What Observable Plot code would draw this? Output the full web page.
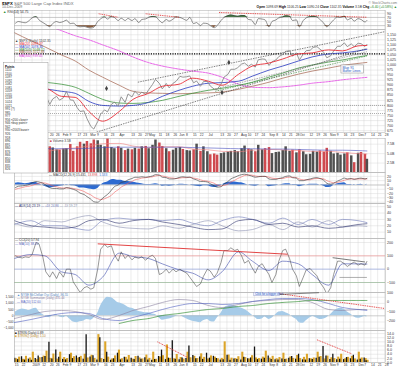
<!DOCTYPE html>
<html><head><meta charset="utf-8">
<script src="https://cdn.jsdelivr.net/npm/d3@7"></script>
<script src="https://cdn.jsdelivr.net/npm/@observablehq/plot@0.6"></script>
<style>
html,body{margin:0;padding:0;background:#fff;}
#chart{position:relative;width:400px;height:369px;overflow:hidden;background:#fff;}
</style></head><body><div id="chart"></div>
<script>
// ---------- DATA ----------
// twice-weekly sample dates (Tue/Fri) Dec 16 2008 .. Dec 10 2009 (104 points)
const price = [913,887,863,872,890,931,934,890,871,850,
805,832,845,826,838,869,827,826,789,770,
773,735,696,683,720,757,778,768,806,816,
798,843,815,857,842,870,851,866,855,877,
904,929,909,882,909,887,910,919,944,940,
942,946,912,921,895,918,919,896,881,879,
905,940,954,979,979,987,1005,1010,994,1004,
990,1026,1030,1029,998,1016,1025,1042,1052,1068,
1071,1044,1060,1025,1054,1071,1073,1087,1091,1079,
1063,1036,1046,1069,1093,1093,1110,1091,1105,1091,
1108,1106,1092,1102];
const rsi = [42,50,46,44,55,68,74,58,45,36,
25,40,50,45,50,57,40,42,28,24,
26,22,18,22,50,63,72,62,74,70,
55,66,55,65,55,64,45,60,63,70,
75,73,55,44,60,52,62,72,70,64,
56,70,40,45,30,42,40,30,20,30,
55,70,78,82,78,76,80,79,60,58,
35,64,62,58,24,50,58,68,72,78,
76,55,58,24,55,68,74,76,72,60,
42,24,42,58,72,70,76,58,66,52,
64,60,48,54.75];
const volume = [6.0,7.5,4.5,2.2,3.8,4.0,6.0,5.5,5.8,7.0,
6.8,6.5,6.0,5.9,6.2,6.3,7.4,5.6,6.8,8.0,
7.5,8.2,7.6,8.6,8.4,7.2,6.8,8.9,6.6,6.3,
6.8,6.4,5.8,6.2,6.0,6.4,6.2,6.8,6.9,6.3,
7.2,8.6,7.8,6.9,6.3,5.5,5.9,6.4,6.6,6.1,
5.8,5.7,6.0,7.5,5.6,6.8,5.5,4.7,4.9,4.6,
5.0,5.2,5.4,5.6,5.8,5.5,6.3,7.0,6.2,6.0,
5.5,7.2,6.0,6.3,6.6,5.0,5.3,5.4,5.8,6.8,
5.6,5.9,5.2,6.0,5.5,4.7,4.8,5.6,5.4,5.7,
5.4,6.4,5.6,4.9,5.1,4.6,4.9,5.2,4.4,2.6,
5.1,5.3,4.8,3.5];
const macd = [-6,-3,-2,-1,1,5,8,7,4,0,
-6,-8,-8,-9,-9,-6,-8,-10,-14,-19,
-22,-27,-33,-39,-40,-35,-27,-22,-12,-4,
0,6,8,12,15,18,18,19,18,19,
21,24,23,18,17,14,14,15,18,19,
18,18,14,12,8,8,7,3,-2,-5,
-4,2,8,14,18,21,24,25,23,21,
18,19,20,20,14,13,13,15,17,20,
21,17,16,10,10,12,14,16,17,15,
11,4,2,4,9,12,16,14,15,13,
15,16,14,15.43];
const signal = [-10,-8,-6,-4,-3,-1,2,4,5,4,
1,-2,-4,-6,-7,-7,-7,-8,-10,-12,
-15,-19,-23,-28,-32,-34,-32,-29,-24,-17,
-11,-5,0,4,8,12,14,16,17,18,
19,21,22,21,19,17,16,15,16,17,
17,18,16,15,12,10,9,7,4,0,
-2,-1,2,7,11,15,19,22,23,23,
21,20,20,20,18,16,15,15,15,17,
18,18,17,14,12,12,12,14,15,15,
14,10,7,5,6,8,11,13,14,14,
14,14,14,13.9];
const cci = [100,90,84,92,88,110,200,190,90,-20,
-60,-20,-70,-20,-60,0,0,-95,-140,-175,
-140,-130,-150,-140,0,150,185,165,175,110,
60,130,80,105,70,90,82,94,67,90,
105,80,-40,-30,0,-30,0,-20,0,-15,
-30,-60,-100,-130,-110,-54,0,-14,-60,-30,
50,140,140,160,140,149,100,45,65,20,
-30,20,41,5,-41,-100,-40,60,140,150,
80,0,-50,-130,-60,-5,5,-20,-50,-100,
-140,-185,-140,-40,60,60,41,20,41,54,
30,41,30,57.94];
const mcOsc = [300,450,550,500,420,520,600,350,100,-50,
-150,0,80,-100,-150,-50,-300,-500,-550,-480,
-420,-300,-350,-200,200,800,1300,1500,1450,1300,
1050,1000,850,700,600,500,350,300,250,250,
150,100,-200,-350,-300,-250,-150,-50,0,-100,
-250,-350,-450,-500,-550,-400,-300,-450,-500,-200,
200,600,800,850,800,700,600,500,300,100,
-150,-300,-250,-100,-300,-200,100,300,350,250,
100,-100,-300,-550,-600,-400,-150,-50,-200,-300,
-250,-150,100,350,550,600,500,300,100,-100,
-200,-150,-50,-100];
const trin = [2.1,1.4,2.8,1.2,1.6,1.1,1.9,3.2,2.4,2.9,
9.8,1.7,6.0,2.5,1.5,1.3,3.8,1.9,3.1,2.4,
1.6,13.5,2.7,3.3,1.2,12.0,1.5,5.0,1.1,1.8,
4.5,1.3,2.6,1.2,2.0,1.4,3.0,1.6,2.3,1.2,
1.1,1.5,2.9,6.0,1.4,2.1,10.5,1.6,1.3,2.2,
1.9,8.0,3.4,1.8,2.7,1.5,4.5,2.1,3.0,1.9,
1.2,1.3,3.5,1.1,1.7,1.4,1.2,2.5,1.8,2.2,
7.5,1.4,1.6,2.0,3.1,1.5,1.3,1.2,1.7,1.4,
2.0,2.9,1.6,4.0,1.3,1.2,1.8,1.5,2.1,2.6,
7.7,3.2,1.4,4.0,1.3,1.6,1.4,2.4,1.8,3.5,
1.2,1.6,2.2,0.89];
const trinq = [1.8,2.6,1.5,3.0,2.2,5.0,1.4,2.3,3.1,5.5,
2.0,4.1,1.6,5.0,2.4,1.9,4.5,2.8,2.1,3.0,
4.0,2.2,3.5,2.0,13.5,1.9,10.0,2.6,1.7,3.2,
6.0,1.8,2.5,3.4,1.6,2.9,2.2,1.7,3.6,2.0,
5.0,1.5,2.7,3.3,8.5,2.0,1.8,3.9,2.4,1.6,
5.0,2.3,3.0,1.9,4.2,2.5,1.7,3.2,2.6,1.8,
2.0,10.0,3.6,2.1,1.9,2.8,5.0,2.4,1.7,3.3,
2.2,1.9,2.6,5.5,2.1,3.0,1.8,2.4,4.5,1.6,
2.7,2.0,3.4,1.9,2.5,4.0,1.8,2.2,5.0,2.9,
1.7,3.1,2.3,1.9,2.6,4.0,1.8,2.5,3.0,1.7,
5.0,2.2,1.9,1.10];

// semi-monthly smooth series (25 points)
const smDates = ["2008-12-15","2009-01-01","2009-01-15","2009-02-01","2009-02-15","2009-03-01","2009-03-15","2009-04-01","2009-04-15","2009-05-01","2009-05-15","2009-06-01","2009-06-15","2009-07-01","2009-07-15","2009-08-01","2009-08-15","2009-09-01","2009-09-15","2009-10-01","2009-10-15","2009-11-01","2009-11-15","2009-12-01","2009-12-10"];
const ma20  = [870,880,885,845,840,770,722,770,830,860,895,905,935,920,900,955,995,1010,1030,1055,1060,1075,1070,1095,1097];
const ma50  = [880,875,880,870,860,820,800,797,800,815,845,875,895,910,913,920,945,975,995,1020,1040,1055,1060,1070,1078];
const ma100 = [940,925,915,905,890,860,830,812,810,815,825,845,860,875,885,900,915,940,960,985,1000,1015,1025,1040,1047];
const ma200 = [1160,1120,1090,1050,1020,975,940,900,870,862,860,858,860,862,866,880,895,915,935,955,970,985,998,1008,1013];
const ma300 = [1250,1225,1200,1170,1145,1125,1100,1070,1040,1012,995,980,970,960,940,905,890,888,892,900,910,918,927,935,939];
const volMaRed  = [5.8,5.0,5.5,6.2,6.5,7.0,7.6,7.7,7.0,6.6,6.8,6.8,6.2,6.0,5.6,5.5,5.9,6.1,6.0,5.8,5.6,5.6,5.3,5.0,4.9];
const volMaBlue = [6.5,6.4,6.3,6.3,6.3,6.4,6.6,6.7,6.7,6.7,6.7,6.7,6.6,6.5,6.4,6.3,6.3,6.2,6.2,6.1,6.0,5.9,5.9,5.8,5.7];
const adx = [28,20,18,16,18,28,30,24,28,30,26,22,18,14,15,28,30,22,24,18,20,16,18,22,23.19];
const pdi = [22,28,20,20,16,13,28,32,30,30,28,30,24,20,28,34,30,24,32,22,30,22,30,28,25];
const mdi = [24,18,28,26,32,36,26,18,16,15,20,16,22,28,20,12,14,22,14,26,18,28,18,20,19];
const cciMa = [80,110,100,-20,-40,-120,-60,120,95,80,40,-5,-30,-80,-20,130,60,-10,60,40,-40,-120,40,40,38];
const sumGray = [-174,-132,-100,-89,-100,-132,-184,-142,-89,-47,-5,26,16,-37,-58,-26,5,16,26,26,-5,-79,-89,-79,-79];
const sumBlue = [-216,-184,-153,-121,-111,-121,-174,-195,-163,-121,-79,-37,-16,-16,-26,-16,5,26,37,37,26,-16,-58,-79,-89];
const sumGreen = [null,null,null,null,null,null,null,-226,-195,-174,-142,-121,-100,-79,-68,-47,-37,-16,-5,5,16,16,16,16,16];

// tick labels
const tickDates = ["2008-12-15","2008-12-22","2009-01-02","2009-01-12","2009-01-20","2009-01-26","2009-02-02","2009-02-09","2009-02-17","2009-02-23","2009-03-02","2009-03-09","2009-03-16","2009-03-23","2009-04-01","2009-04-13","2009-04-20","2009-04-27","2009-05-01","2009-05-11","2009-05-18","2009-05-26","2009-06-01","2009-06-08","2009-06-15","2009-06-22","2009-07-01","2009-07-13","2009-07-20","2009-07-27","2009-08-03","2009-08-10","2009-08-17","2009-08-24","2009-09-01","2009-09-08","2009-09-14","2009-09-21","2009-09-28","2009-10-02","2009-10-12","2009-10-19","2009-10-26","2009-11-02","2009-11-09","2009-11-16","2009-11-23","2009-12-01","2009-12-07","2009-12-14","2009-12-21","2009-12-28"];
const tickLabels = ["15","22","2009","12","20","26","Feb","9","17","23","Mar","9","16","23","Apr","13","20","27","May","11","18","26","Jun","8","15","22","Jul","13","20","27","Aug","10","17","24","Sep","8","14","21","28","Oct","12","19","26","Nov","9","16","23","Dec","7","14","21","28"];
const priceTicks = [675,700,725,750,775,800,825,850,875,900,925,950,975,1000,1025,1050,1075,1100,1125,1150];
const rsiTicks = [90,70,50,30];
const volTicks = [2.5,5,7.5];
const macdTicks = [20,10,0,-10,-20,-30,-40];
const adxTicks = [50,40,30,20,10];
const cciTicks = [200,100,0,-100];
const oscTicksLeft = [1500,1000,500,0,-500,-1000];
const sumTicksRight = [100,0,-100,-200];
const trinTicks = [14,12,10,8,6,4,2,0];

// trendlines and annotations (data units)
const priceTrend = [
  {x1:"2009-03-09", y1:668, x2:"2009-12-10", y2:1082, c:"#333"},
  {x1:"2009-04-20", y1:915, x2:"2009-12-28", y2:1165, c:"#333"},
  {x1:"2009-07-08", y1:870, x2:"2009-12-10", y2:1045, c:"#2a7a2a"},
  {x1:"2009-07-08", y1:882, x2:"2009-12-10", y2:1066, c:"#777"}
];
const priceMarkers = [{d:"2009-03-19", v:884},{d:"2009-07-22", v:1013},{d:"2009-07-15", v:864}];
const priceNote = [{x1:"2009-11-14", x2:"2009-12-07", y1:998, y2:958, t1:"Blue 91", t2:"Buffer Lines"}];
const rsiTrend = [
  {x1:"2009-03-11", y1:88, x2:"2009-03-31", y2:71},
  {x1:"2009-04-28", y1:88, x2:"2009-06-01", y2:71},
  {x1:"2009-07-12", y1:94, x2:"2009-12-10", y2:71}
];
const cciTrend = [
  {x1:"2009-03-10", y1:190, x2:"2009-09-20", y2:112, c:"#e03030", d:"1,0.8", w:0.9},
  {x1:"2009-11-05", y1:86, x2:"2009-12-08", y2:54, c:"#222", d:"1.5,1", w:0.6},
  {x1:"2009-11-12", y1:-62, x2:"2009-12-10", y2:-62, c:"#777", d:"1.5,1", w:0.6}
];
const oscTrend = [{x1:"2009-09-10", y1:90, x2:"2009-12-28", y2:-68}];
const oscNote = [{x1:"2009-08-17", x2:"2009-09-12", y1:96, y2:60, t:"Click for a bigger chart"}];
const trinTrend = [
  {x1:"2009-05-10", y1:10, x2:"2009-06-10", y2:2.4},
  {x1:"2009-10-20", y1:11, x2:"2009-11-24", y2:4.3}
];
const pointsList = ["Points","1110","1100","1097","1092","1082","1081","1059","1055","1039","1024","1021","991 (?)","985","977","956 <200 close>","946 <buy point>","942","930 <2003 base>","926","918","896","891","880","876","866","850","838","835","826"];

// ---------- BUILD ----------
const chart = document.getElementById("chart");
const FONT = "Liberation Sans, Arial, sans-serif";
const P = s => new Date(s);
const dates = d3.utcDay.range(P("2008-12-16"), P("2009-12-09")).filter(d => d.getUTCDay() === 2 || d.getUTCDay() === 5);
dates.push(P("2009-12-10"));
const rows = dates.map((date, i) => ({
  date, price: price[i], rsi: rsi[i], vol: volume[i], macd: macd[i], signal: signal[i],
  cci: cci[i], osc: mcOsc[i], trin: trin[i], trinq: trinq[i],
  up: i === 0 ? true : price[i] >= price[i - 1]
}));
const sm = smDates.map((s, i) => ({
  date: P(s), ma20: ma20[i], ma50: ma50[i], ma100: ma100[i], ma200: ma200[i], ma300: ma300[i],
  vr: volMaRed[i], vb: volMaBlue[i], adx: adx[i], pdi: pdi[i], mdi: mdi[i], cm: cciMa[i],
  sg: sumGray[i], sb: sumBlue[i], sgr: sumGreen[i]
}));
const tdates = tickDates.map(P);
const tlabel = new Map(tdates.map((d, i) => [+d, tickLabels[i]]));
const toLink = a => a.map(o => ({...o, x1: P(o.x1), x2: P(o.x2)}));
const XD = [P("2008-12-15"), P("2009-12-29")];

const gridMarks = yt => [
  Plot.gridX({ticks: tdates, stroke: "#cfcfcf", strokeOpacity: 1, strokeWidth: 0.4}),
  Plot.gridY({ticks: yt, stroke: "#cfcfcf", strokeOpacity: 1, strokeWidth: 0.4})
];
const yRight = (ticks, fmt) => Plot.axisY({anchor: "right", ticks, tickSize: 0, tickPadding: 1.5, tickFormat: fmt, label: null});
const xAxisMark = () => Plot.axisX({ticks: tdates, tickFormat: d => tlabel.get(+d) ?? "", tickSize: 0, tickPadding: 1.3, textAnchor: "start", dx: 0.3, fontSize: 3.3, label: null});
const frame = () => Plot.frame({stroke: "#aaa", strokeWidth: 0.5});

function addPanel(top, height, y, marks, mb = 0, hasX = false, ml = 14) {
  const svg = Plot.plot({
    width: 400, height, marginLeft: ml, marginRight: 15, marginTop: 0, marginBottom: mb,
    x: hasX ? {type: "utc", domain: XD, label: null} : {type: "utc", domain: XD, axis: null, label: null},
    y: {...y, label: null},
    style: {background: "transparent", fontFamily: FONT, fontSize: "3.6px", color: "#333", overflow: "visible"},
    marks
  });
  svg.style.position = "absolute"; svg.style.left = "0px"; svg.style.top = top + "px";
  chart.appendChild(svg);
}
const C = {curve: "monotone-x", clip: true};

// RSI panel
addPanel(10, 19, {domain: [11, 104]}, [
  ...gridMarks(rsiTicks),
  Plot.areaY(rows, {x: "date", y1: 70, y2: d => Math.max(d.rsi, 70), fill: "#4a7d4a", curve: "monotone-x"}),
  Plot.areaY(rows, {x: "date", y1: 30, y2: d => Math.min(d.rsi, 30), fill: "#8b5a3a", curve: "monotone-x"}),
  Plot.ruleY([70, 30], {stroke: "#999", strokeWidth: 0.4}),
  Plot.line(rows, {x: "date", y: "rsi", stroke: "#333", strokeWidth: 0.55, curve: "monotone-x"}),
  Plot.link(toLink(rsiTrend), {x1: "x1", y1: "y1", x2: "x2", y2: "y2", stroke: "#e03030", strokeWidth: 0.9, strokeDasharray: "1,0.8"}),
  frame(),
  yRight(rsiTicks)
]);

// Price panel
addPanel(29, 109, {domain: [666, 1176]}, [
  ...gridMarks(priceTicks),
  Plot.ruleY([800, 760], {stroke: "#777", strokeWidth: 0.6, strokeDasharray: "1,1"}),
  Plot.ruleY([1055], {stroke: "#000", strokeWidth: 1.3, strokeDasharray: "1.2,1.2"}),
  Plot.line(sm, {x: "date", y: "ma300", stroke: "#e23ce2", strokeWidth: 0.8, strokeDasharray: "2,1", ...C}),
  Plot.line(sm, {x: "date", y: "ma200", stroke: "#a0604a", strokeWidth: 0.7, ...C}),
  Plot.line(sm, {x: "date", y: "ma100", stroke: "#2a8a2a", strokeWidth: 0.7, ...C}),
  Plot.line(sm, {x: "date", y: "ma50", stroke: "#2838c0", strokeWidth: 0.8, ...C}),
  Plot.line(rows, {x: "date", y: "price", stroke: "#8a8a8a", strokeWidth: 0.9}),
  Plot.line(sm, {x: "date", y: "ma20", stroke: "#e8303a", strokeWidth: 0.9, ...C}),
  Plot.link(toLink(priceTrend), {x1: "x1", y1: "y1", x2: "x2", y2: "y2", stroke: "c", strokeWidth: 0.6, strokeDasharray: "1.5,1", clip: true}),
  Plot.dot(priceMarkers.map(m => ({d: P(m.d), v: m.v})), {x: "d", y: "v", symbol: "diamond", r: 1.6, fill: "#444", stroke: "none"}),
  Plot.rect(toLink(priceNote), {x1: "x1", x2: "x2", y1: "y1", y2: "y2", fill: "#fff", stroke: "#888", strokeWidth: 0.5}),
  Plot.text(toLink(priceNote), {x: "x1", y: d => 988, text: "t1", textAnchor: "start", dx: 1, fill: "#2050c0", fontSize: 3.4}),
  Plot.text(toLink(priceNote), {x: "x1", y: d => 970, text: "t2", textAnchor: "start", dx: 1, fill: "#2050c0", fontSize: 3.4}),
  frame(),
  yRight(priceTicks),
  xAxisMark()
], 6, true);

// Volume panel
addPanel(138, 34, {domain: [0, 9]}, [
  ...gridMarks(volTicks),
  Plot.ruleX(rows, {x: "date", y1: 0, y2: "vol", stroke: d => d.up ? "#505050" : "#cf4a4f", strokeWidth: 2.5}),
  Plot.line(sm, {x: "date", y: "vr", stroke: "#f08080", strokeWidth: 0.6, ...C}),
  Plot.line(sm, {x: "date", y: "vb", stroke: "#4a50c0", strokeWidth: 0.6, ...C}),
  frame(),
  yRight(volTicks, d => d.toFixed(1) + "B")
]);

// MACD panel
addPanel(172, 31, {domain: [-43, 29]}, [
  ...gridMarks(macdTicks),
  Plot.areaY(rows, {x: "date", y: d => d.macd - d.signal, fill: "#2e6bd1", curve: "monotone-x"}),
  Plot.ruleY([0], {stroke: "#999", strokeWidth: 0.4}),
  Plot.line(rows, {x: "date", y: "signal", stroke: "#f06060", strokeWidth: 0.6, curve: "monotone-x"}),
  Plot.line(rows, {x: "date", y: "macd", stroke: "#333", strokeWidth: 0.6, curve: "monotone-x"}),
  frame(),
  yRight(macdTicks)
]);

// ADX panel
addPanel(203, 35, {domain: [0, 55]}, [
  ...gridMarks(adxTicks),
  Plot.line(sm, {x: "date", y: "pdi", stroke: "#6d78b8", strokeWidth: 0.6, ...C}),
  Plot.line(sm, {x: "date", y: "mdi", stroke: "#8a8fb0", strokeWidth: 0.6, ...C}),
  Plot.line(sm, {x: "date", y: "adx", stroke: "#2a2f6a", strokeWidth: 0.6, ...C}),
  frame(),
  yRight(adxTicks)
]);

// CCI panel
addPanel(238, 54, {domain: [-175, 230]}, [
  ...gridMarks(cciTicks),
  Plot.ruleY([100], {stroke: "#f08a8a", strokeWidth: 0.6}),
  Plot.ruleY([0], {stroke: "#8a9ee0", strokeWidth: 0.6}),
  Plot.ruleY([-100], {stroke: "#8ab08a", strokeWidth: 0.6}),
  Plot.line(sm, {x: "date", y: "cm", stroke: "#5a66b8", strokeWidth: 0.7, ...C}),
  Plot.line(rows, {x: "date", y: "cci", stroke: "#333", strokeWidth: 0.5, clip: true}),
  Plot.link(toLink(cciTrend), {x1: "x1", y1: "y1", x2: "x2", y2: "y2", stroke: "c", strokeWidth: "w", strokeDasharray: "d"}),
  frame(),
  yRight(cciTicks)
]);

// McClellan panel (left axis: oscillator area)
addPanel(292, 38, {domain: [-1185, 1880]}, [
  ...gridMarks(oscTicksLeft),
  Plot.areaY(rows, {x: "date", y: "osc", fill: "#a6cbe8", curve: "monotone-x", clip: true}),
  Plot.ruleY([0], {stroke: "#aaa", strokeWidth: 0.4}),
  frame(),
  Plot.axisY({anchor: "left", ticks: oscTicksLeft, tickSize: 0, tickPadding: 1, fontSize: 3.2, label: null})
]);
// McClellan right-axis lines overlay
addPanel(292, 38, {domain: [-300, 100]}, [
  Plot.line(sm, {x: "date", y: "sg", stroke: "#8a80a0", strokeWidth: 0.6, ...C}),
  Plot.line(sm, {x: "date", y: "sb", stroke: "#5060c0", strokeWidth: 0.6, ...C}),
  Plot.line(sm, {x: "date", y: "sgr", stroke: "#2a8a2a", strokeWidth: 0.7, strokeDasharray: "1,0.8", ...C}),
  Plot.link(toLink(oscTrend), {x1: "x1", y1: "y1", x2: "x2", y2: "y2", stroke: "#e03030", strokeWidth: 0.9, strokeDasharray: "1,0.8"}),
  Plot.rect(toLink(oscNote), {x1: "x1", x2: "x2", y1: "y1", y2: "y2", fill: "#eef2ff", stroke: "#8890c0", strokeWidth: 0.4}),
  Plot.text(toLink(oscNote), {x: "x1", y: d => 78, text: "t", textAnchor: "start", dx: 0.8, fill: "#2050c0", fontSize: 2.8}),
  Plot.link(toLink([{x1: "2009-09-12", y1: 80, x2: "2009-10-22", y2: 98}]), {x1: "x1", y1: "y1", x2: "x2", y2: "y2", stroke: "#333", strokeWidth: 0.6}),
  yRight(sumTicksRight)
]);

// TRIN panel
addPanel(330, 39, {domain: [0, 15.5]}, [
  ...gridMarks(trinTicks),
  Plot.ruleX(rows, {x: "date", y1: 0, y2: "trinq", stroke: "#dca52a", strokeWidth: 2.1, dx: 0.7}),
  Plot.ruleX(rows, {x: "date", y1: 0, y2: "trin", stroke: "#111", strokeWidth: 1.3, dx: -0.8}),
  Plot.link(toLink(trinTrend), {x1: "x1", y1: "y1", x2: "x2", y2: "y2", stroke: "#e03030", strokeWidth: 0.9, strokeDasharray: "1,0.8"}),
  frame(),
  yRight(trinTicks, d => d.toFixed(1)),
  xAxisMark()
], 7, true);

// ---------- TEXT OVERLAY ----------
const ov = d3.select(chart).append("svg").attr("width", 400).attr("height", 369)
  .style("position", "absolute").style("left", "0px").style("top", "0px")
  .attr("font-family", FONT);
function txt(x, y, parts, size = 3.6, anchor = "start") {
  const t = ov.append("text").attr("x", x).attr("y", y).attr("font-size", size).attr("text-anchor", anchor);
  parts.forEach(p => t.append("tspan").attr("fill", p.c || "#333").attr("font-weight", p.b ? "bold" : null).text(p.t));
  return t;
}
// header
txt(2, 4.6, [{t: "$SPX ", c: "#000", b: true}, {t: "S&P 500 Large Cap Index  INDX", c: "#666"}], 4.2);
txt(2, 8.4, [{t: "10-Dec-2009", c: "#666"}], 3.5);
txt(397, 3.6, [{t: "© StockCharts.com", c: "#777"}], 3.3, "end");
txt(397, 8.0, [{t: "Open ", b: true, c: "#000"}, {t: "1098.69  "}, {t: "High ", b: true, c: "#000"}, {t: "1106.25  "},
  {t: "Low ", b: true, c: "#000"}, {t: "1090.24  "}, {t: "Close ", b: true, c: "#000"}, {t: "1102.35  "},
  {t: "Volume ", b: true, c: "#000"}, {t: "3.5B  "}, {t: "Chg ", b: true, c: "#000"}, {t: "+6.40 (+0.58%) ▲", c: "#2a8a2a"}], 3.3, "end");
txt(3, 12.6, [{t: "▲ ", c: "#2a8a2a"}, {t: "RSI(14) 54.75"}], 3.4);
// price legend
txt(15, 41.6, [{t: "▲ $SPX (Daily) 1102.35", c: "#444"}], 3.3);
txt(15, 44.6, [{t: "— MA(20) 1099.97", c: "#e8303a"}], 3.3);
txt(15, 47.6, [{t: "— MA(50) 1078.30", c: "#2838c0"}], 3.3);
txt(15, 50.6, [{t: "— MA(100) 1048.12", c: "#2a8a2a"}], 3.3);
txt(15, 53.4, [{t: "— MA(200) 1012.88", c: "#a0604a"}], 3.3);
txt(15, 57.2, [{t: "- - MA(300) 939.45", c: "#e23ce2"}], 3.3);
// left points box
ov.append("rect").attr("x", 3.5).attr("y", 62.5).attr("width", 44.5).attr("height", 110.5)
  .attr("fill", "#fff").attr("stroke", "#999").attr("stroke-width", 0.5);
pointsList.forEach((s, i) => txt(5, 67.5 + i * 3.55, [{t: s, c: i === 0 ? "#000" : "#333", b: i === 0}], 3.1));
// other panel legends
txt(50, 141.8, [{t: "■ ", c: "#cf4a4f"}, {t: "Volume 3.5B", c: "#444"}], 3.2);
txt(49, 176.0, [{t: "— MACD(12,26,9) ", c: "#333"}, {t: "15.431, ", c: "#333"}, {t: "13.898, ", c: "#e05050"}, {t: "1.533", c: "#2e6bd1"}], 3.2);
txt(15, 206.8, [{t: "— ADX(14) 23.19  ", c: "#2a2f6a"}, {t: "— +DI 24.86  ", c: "#6d78b8"}, {t: "— -DI 19.27", c: "#8a8fb0"}], 3.2);
txt(15, 241.4, [{t: "— CCI(20) 57.94", c: "#333"}], 3.2);
txt(15, 244.8, [{t: "— MA(10) 38.20", c: "#5a66b8"}], 3.2);
txt(17, 295.8, [{t: "▲ ", c: "#4a8ad0"}, {t: "NYSE McClellan Osc (Daily) -96.55", c: "#4a7fc0"}], 3.0);
txt(17, 299.2, [{t: "— NYSE Summation (Daily) 431.44", c: "#8a80a0"}], 3.0);
txt(17, 302.6, [{t: "— MA(20) 512.60", c: "#5060c0"}], 3.0);
txt(15, 333.6, [{t: "■ ", c: "#111"}, {t: "$TRIN (Daily) 0.89", c: "#333"}], 3.1);
txt(15, 337.0, [{t: "■ ", c: "#dca52a"}, {t: "$TRINQ (Daily) 1.10", c: "#b8861a"}], 3.1);
</script></body></html>
